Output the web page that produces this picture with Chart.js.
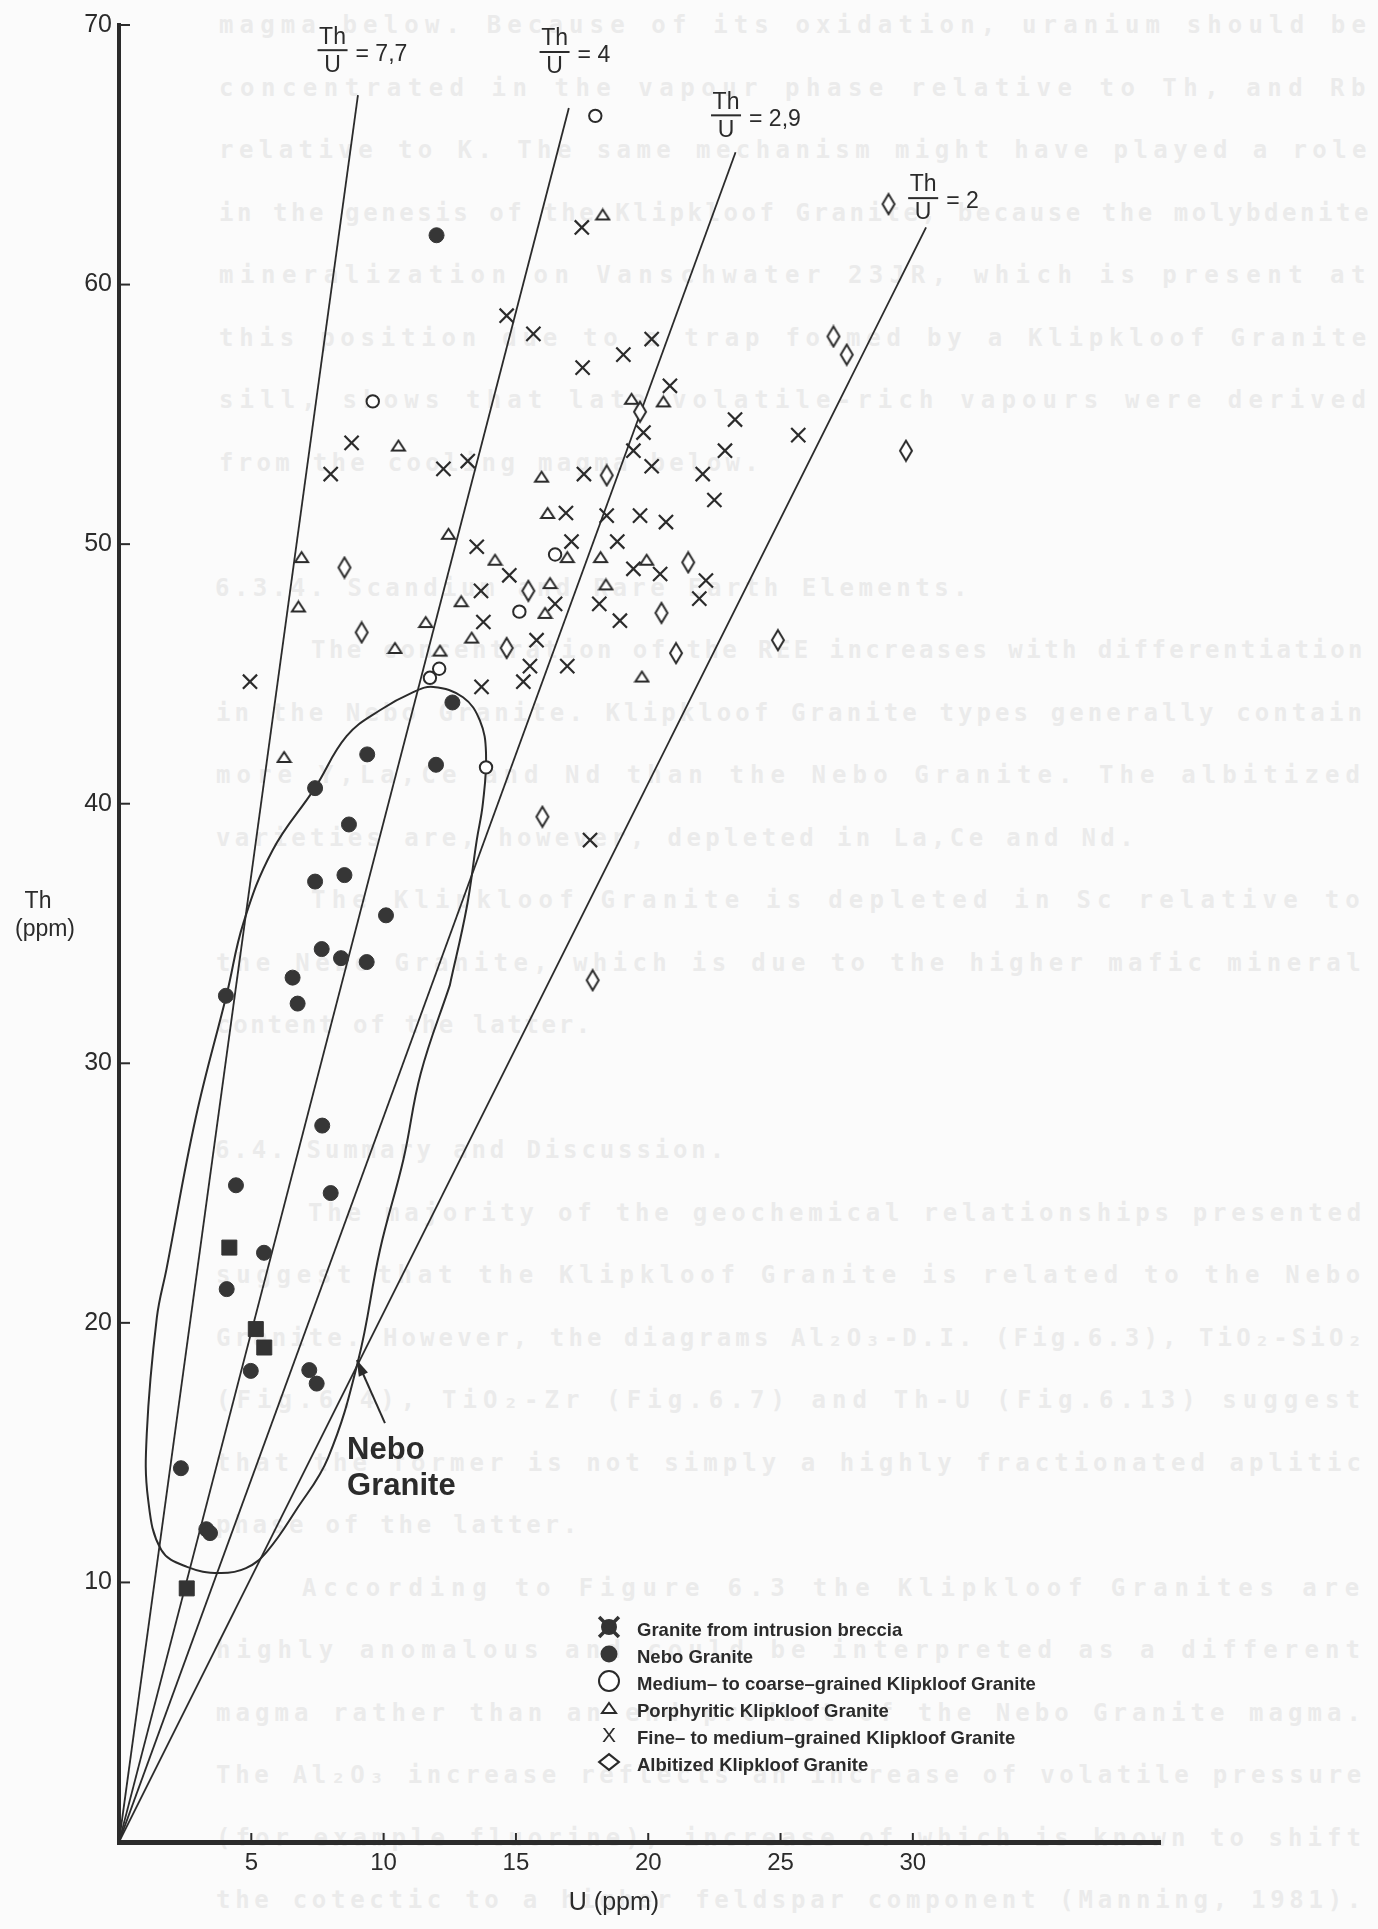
<!DOCTYPE html>
<html>
<head>
<meta charset="utf-8">
<script src="https://cdn.jsdelivr.net/npm/chart.js@4.4.1/dist/chart.umd.min.js"></script>
<style>
  html, body { margin: 0; padding: 0; background: #fbfbfb; }
  #page { position: relative; width: 1378px; height: 1929px; overflow: hidden; }
  #ghost { position: absolute; left: 0; top: 0; width: 1378px; height: 1929px; }
  #ghost div { position: absolute; white-space: pre; font: bold 24px "DejaVu Sans Mono", monospace; color: #ebebeb; line-height: 24px; }
  #chart { position: absolute; left: 0; top: 0; }
</style>
</head>
<body>
<div id="page">
  <div id="ghost"></div>
  <canvas id="chart" width="1378" height="1929"></canvas>
</div>
<script>
// --- values: U (ppm) and Th (ppm) ---
const brecciaU = [4.17, 5.17, 5.49, 2.56];
const brecciaTh = [22.9, 19.76, 19.05, 9.77];

const neboU = [12.0, 12.6, 9.38, 11.98, 7.41, 8.69, 7.41, 8.52, 10.09, 7.66, 8.39, 9.36, 6.56,
  4.04, 6.75, 7.68, 4.42, 8.0, 5.48, 4.07, 4.98, 7.19, 7.47, 2.34, 3.3, 3.44];
const neboTh = [61.9, 43.9, 41.9, 41.5, 40.6, 39.2, 37.0, 37.25, 35.7, 34.4, 34.05, 33.9, 33.3,
  32.6, 32.3, 27.6, 25.3, 25.0, 22.7, 21.3, 18.15, 18.18, 17.66, 14.4, 12.05, 11.9];

const coarseU = [18.0, 9.59, 16.48, 15.13, 12.1, 11.75, 13.87];
const coarseTh = [66.5, 55.5, 49.6, 47.4, 45.2, 44.85, 41.4];

const porphU = [18.28, 10.56, 19.37, 20.57, 12.45, 14.21, 6.9, 6.78, 12.93, 11.59, 10.43, 12.13,
  13.33, 6.24, 15.97, 16.2, 16.94, 18.2, 19.94, 16.29, 18.4, 16.1, 19.76];
const porphTh = [62.7, 53.8, 55.6, 55.5, 50.4, 49.4, 49.5, 47.6, 47.8, 47.0, 46.0, 45.9,
  46.4, 41.8, 52.6, 51.2, 49.5, 49.5, 49.4, 48.5, 48.45, 47.35, 44.9];

const fineU = [14.65, 8.79, 17.49, 15.66, 20.13, 19.06, 17.52, 20.82, 19.82, 23.28, 25.67, 22.9,
  19.44, 8.0, 12.26, 13.18, 13.52, 14.75, 13.68, 13.77, 4.95, 13.7, 15.28, 15.53, 17.57, 20.13,
  22.06, 22.5, 16.89, 18.43, 19.69, 20.67, 17.1, 18.83, 19.44, 20.45, 22.18, 21.93, 18.15, 16.48,
  18.93, 15.78, 16.94, 17.8];
const fineTh = [58.8, 53.9, 62.2, 58.1, 57.9, 57.3, 56.8, 56.1, 54.3, 54.8, 54.2, 53.6,
  53.6, 52.7, 52.9, 53.2, 49.9, 48.8, 48.2, 47.0, 44.7, 44.5, 44.7, 45.3, 52.7, 53.0,
  52.7, 51.7, 51.2, 51.1, 51.1, 50.85, 50.1, 50.1, 49.05, 48.85, 48.6, 47.9, 47.7, 47.7,
  47.05, 46.3, 45.3, 38.6];

const albitU = [29.08, 27.0, 27.5, 19.69, 29.74, 8.52, 9.17, 14.65, 18.43, 21.51, 15.47, 20.5,
  21.05, 24.9, 16.0, 17.9];
const albitTh = [63.1, 58.0, 57.3, 55.1, 53.6, 49.1, 46.6, 46.0, 52.65, 49.3, 48.2, 47.35,
  45.8, 46.3, 39.5, 33.2];

// Th/U reference lines from the origin, ends as drawn
const ratioText = ['7,7', '4', '2,9', '2'];
const ratioEndU = [9.03, 17.0, 23.3, 30.5];
const ratioEndTh = [67.3, 66.8, 65.1, 62.2];

// Nebo Granite field outline (closed)
const envU = [12.5, 11.4, 10.75, 9.86, 9.05, 7.9, 6.7, 5.6, 4.8, 3.8, 2.57, 1.6, 1.1, 1.05, 1.43,
  1.8, 2.9, 4.08, 4.7, 5.8, 7.4, 8.6, 9.86, 11.12, 11.88, 13.0, 13.64, 13.87, 13.75, 13.52, 13.14, 12.5];
const envTh = [33.0, 29.6, 26.3, 22.8, 18.6, 14.8, 12.8, 11.2, 10.55, 10.36, 10.6, 11.25, 13.2, 15.75, 20.2,
  22.1, 27.9, 32.7, 35.4, 38.2, 40.6, 42.6, 43.6, 44.3, 44.5, 44.1, 43.2, 41.95, 40.0, 38.6, 36.0, 33.0];

const xTicks = [5, 10, 15, 20, 25, 30];
const yTicks = [10, 20, 30, 40, 50, 60, 70];

const legendText = [
  'Granite from intrusion breccia',
  'Nebo Granite',
  'Medium\u2013 to coarse\u2013grained Klipkloof Granite',
  'Porphyritic Klipkloof Granite',
  'Fine\u2013 to medium\u2013grained Klipkloof Granite',
  'Albitized Klipkloof Granite'
];

// placement of annotations (in data units)
const ratioLabelAt = [[8.07, 69.03], [16.46, 68.96], [22.94, 66.52], [30.39, 63.33]];
const neboArrow = { from: [10.05, 16.14], to: [8.99, 18.57], text: [8.62, 15.1] };

// the bleed-through text of the facing page
const ghostLines = [
  [0, 219, 1372, 'magma below. Because of its oxidation, uranium should be'],
  [1, 219, 1372, 'concentrated in the vapour phase relative to Th, and Rb'],
  [2, 219, 1372, 'relative to K. The same mechanism might have played a role'],
  [3, 219, 1372, 'in the genesis of the Klipkloof Granite, because the molybdenite'],
  [4, 219, 1372, 'mineralization on Vanschwater 23JR, which is present at'],
  [5, 219, 1372, 'this position due to a trap formed by a Klipkloof Granite'],
  [6, 219, 1372, 'sill, shows that late volatile-rich vapours were derived'],
  [7, 219, 763, 'from the cooling magma below.'],
  [9, 215, 972, '6.3.4. Scandium and Rare Earth Elements.'],
  [10, 311, 1366, 'The concentration of the REE increases with differentiation'],
  [11, 216, 1366, 'in the Nebo Granite. Klipkloof Granite types generally contain'],
  [12, 216, 1366, 'more Y,La,Ce and Nd than the Nebo Granite. The albitized'],
  [13, 216, 1138, 'varieties are, however, depleted in La,Ce and Nd.'],
  [14, 311, 1366, 'The Klipkloof Granite is depleted in Sc relative to'],
  [15, 216, 1366, 'the Nebo Granite, which is due to the higher mafic mineral'],
  [16, 216, 593, 'content of the latter.'],
  [18, 215, 728, '6.4. Summary and Discussion.'],
  [19, 308, 1366, 'The majority of the geochemical relationships presented'],
  [20, 216, 1366, 'suggest that the Klipkloof Granite is related to the Nebo'],
  [21, 216, 1366, 'Granite. However, the diagrams Al\u2082O\u2083-D.I. (Fig.6.3), TiO\u2082-SiO\u2082'],
  [22, 216, 1366, '(Fig.6.4), TiO\u2082-Zr (Fig.6.7) and Th-U (Fig.6.13) suggest'],
  [23, 216, 1366, 'that the former is not simply a highly fractionated aplitic'],
  [24, 216, 581, 'phase of the latter.'],
  [25, 302, 1366, 'According to Figure 6.3 the Klipkloof Granites are'],
  [26, 216, 1366, 'highly anomalous and could be interpreted as a different'],
  [27, 216, 1366, 'magma rather than an end-product of the Nebo Granite magma.'],
  [28, 216, 1366, 'The Al\u2082O\u2083 increase reflects an increase of volatile pressure'],
  [29, 216, 1366, '(for example fluorine), increase of which is known to shift'],
  [30, 216, 1366, 'the cotectic to a higher feldspar component (Manning, 1981).']
];

const INK = '#2b2b2b';

// faint text behind the chart
const ghost = document.getElementById('ghost');
const meas = document.createElement('canvas').getContext('2d');
meas.font = 'bold 24px "DejaVu Sans Mono"';
ghostLines.forEach(([row, x0, x1, txt]) => {
  const d = document.createElement('div');
  d.textContent = txt;
  const n = [...txt].length;
  const w = meas.measureText(txt).width;
  d.style.left = x0 + 'px';
  d.style.top = (25 + 62.5 * row - 12) + 'px';
  d.style.letterSpacing = ((x1 - x0 - w) / n) + 'px';
  ghost.appendChild(d);
});

function pts(us, ths) { return us.map((u, i) => ({ x: u, y: ths[i] })); }

function diamond(w, h, lw) {
  const c = document.createElement('canvas');
  c.width = w; c.height = h;
  const g = c.getContext('2d');
  g.lineWidth = lw; g.strokeStyle = INK; g.fillStyle = '#fff';
  g.beginPath();
  g.moveTo(w / 2, lw); g.lineTo(w - lw, h / 2); g.lineTo(w / 2, h - lw); g.lineTo(lw, h / 2);
  g.closePath(); g.fill(); g.stroke();
  return c;
}
function triangle(w, h, lw) {
  const c = document.createElement('canvas');
  c.width = w; c.height = h;
  const g = c.getContext('2d');
  g.lineWidth = lw; g.strokeStyle = INK; g.fillStyle = '#fff'; g.lineJoin = 'miter';
  g.beginPath();
  g.moveTo(w / 2, lw); g.lineTo(w - lw, h - lw); g.lineTo(lw, h - lw);
  g.closePath(); g.fill(); g.stroke();
  return c;
}
const diamondImg = diamond(16, 24, 2);
const triImg = triangle(17, 14, 2);
const legendDiamond = diamond(24, 20, 2.2);
const legendTri = triangle(18, 14, 2);

const pointSets = [
  { label: legendText[0], data: pts(brecciaU, brecciaTh), pointStyle: 'rect', pointRadius: 10.6,
    backgroundColor: '#333', borderColor: '#333', borderWidth: 1 },
  { label: legendText[1], data: pts(neboU, neboTh), pointStyle: 'circle', pointRadius: 7.5,
    backgroundColor: '#363636', borderColor: '#363636', borderWidth: 1 },
  { label: legendText[2], data: pts(coarseU, coarseTh), pointStyle: 'circle', pointRadius: 6.2,
    backgroundColor: '#fff', borderColor: INK, borderWidth: 2 },
  { label: legendText[3], data: pts(porphU, porphTh), pointStyle: triImg, pointRadius: 8,
    backgroundColor: '#fff', borderColor: INK, borderWidth: 2 },
  { label: legendText[4], data: pts(fineU, fineTh), pointStyle: 'crossRot', pointRadius: 10,
    backgroundColor: INK, borderColor: INK, borderWidth: 2.2 },
  { label: legendText[5], data: pts(albitU, albitTh), pointStyle: diamondImg, pointRadius: 10,
    backgroundColor: '#fff', borderColor: INK, borderWidth: 2 }
].map(d => Object.assign(d, { showLine: false, order: 1, pointHoverRadius: d.pointRadius }));

const lineSets = ratioText.map((t, i) => ({
  label: 'Th/U = ' + t,
  data: [{ x: 0, y: 0 }, { x: ratioEndU[i], y: ratioEndTh[i] }],
  showLine: true, borderColor: INK, borderWidth: 1.8, pointRadius: 0, order: 2
}));
lineSets.push({
  label: 'Nebo Granite field',
  data: pts(envU, envTh),
  showLine: true, borderColor: INK, borderWidth: 2, pointRadius: 0, tension: 0.4, order: 2
});

const figure = {
  id: 'figure',
  afterDatasetsDraw(chart) {
    const { ctx, scales: { x, y }, chartArea: a } = chart;
    ctx.save();
    ctx.strokeStyle = INK; ctx.fillStyle = INK; ctx.lineWidth = 2;
    // inward tick marks
    yTicks.forEach(v => {
      const py = y.getPixelForValue(v);
      ctx.beginPath(); ctx.moveTo(a.left, py); ctx.lineTo(a.left + 11, py); ctx.stroke();
    });
    xTicks.forEach(v => {
      const px = x.getPixelForValue(v);
      ctx.beginPath(); ctx.moveTo(px, a.bottom); ctx.lineTo(px, a.bottom - 9); ctx.stroke();
    });
    // Th/U labels
    ratioLabelAt.forEach(([u, th], i) => {
      const bx = x.getPixelForValue(u), by = y.getPixelForValue(th);
      ctx.font = '23px "Liberation Sans"';
      ctx.textAlign = 'center'; ctx.textBaseline = 'middle';
      ctx.fillText('Th', bx, by - 13);
      ctx.fillText('U', bx, by + 15);
      ctx.fillRect(bx - 15, by - 1, 30, 2);
      ctx.textAlign = 'left';
      ctx.fillText('= ' + ratioText[i], bx + 23, by + 4);
    });
    // Nebo Granite label with arrow
    const fx = x.getPixelForValue(neboArrow.from[0]), fy = y.getPixelForValue(neboArrow.from[1]);
    const tx = x.getPixelForValue(neboArrow.to[0]), ty = y.getPixelForValue(neboArrow.to[1]);
    const ang = Math.atan2(ty - fy, tx - fx);
    ctx.beginPath(); ctx.moveTo(fx, fy); ctx.lineTo(tx, ty); ctx.stroke();
    ctx.beginPath();
    ctx.moveTo(tx, ty);
    ctx.lineTo(tx - 16 * Math.cos(ang) + 5 * Math.sin(ang), ty - 16 * Math.sin(ang) - 5 * Math.cos(ang));
    ctx.lineTo(tx - 16 * Math.cos(ang) - 5 * Math.sin(ang), ty - 16 * Math.sin(ang) + 5 * Math.cos(ang));
    ctx.closePath(); ctx.fill();
    const lx = x.getPixelForValue(neboArrow.text[0]), ly = y.getPixelForValue(neboArrow.text[1]);
    ctx.font = 'bold 31px "Liberation Sans"';
    ctx.textAlign = 'left'; ctx.textBaseline = 'middle';
    ctx.fillText('Nebo', lx, ly);
    ctx.fillText('Granite', lx, ly + 36);
    ctx.restore();
  },
  afterDraw(chart) {
    const ctx = chart.ctx;
    const draw = Chart.helpers.drawPoint;
    ctx.save();
    ctx.fillStyle = INK; ctx.strokeStyle = INK;
    // axis titles
    ctx.font = '23px "Liberation Sans"';
    ctx.textAlign = 'center'; ctx.textBaseline = 'middle';
    ctx.fillText('Th', 38, 902);
    ctx.fillText('(ppm)', 45, 930);
    ctx.font = '25px "Liberation Sans"';
    ctx.fillText('U (ppm)', 614, 1903);
    // legend
    const sx = 609, tx = 637;
    legendText.forEach((t, i) => {
      const ty = 1631 + 27 * i, sy = ty - 4;
      ctx.fillStyle = INK; ctx.strokeStyle = INK; ctx.lineWidth = 2;
      if (i === 0) {
        ctx.fillStyle = '#333';
        draw(ctx, { pointStyle: 'circle', radius: 8, borderWidth: 0 }, sx, sy);
        ctx.lineWidth = 3.5; ctx.strokeStyle = '#333';
        draw(ctx, { pointStyle: 'crossRot', radius: 14, borderWidth: 3.5 }, sx, sy);
      } else if (i === 1) {
        ctx.fillStyle = '#363636';
        draw(ctx, { pointStyle: 'circle', radius: 8.5, borderWidth: 0 }, sx, sy);
      } else if (i === 2) {
        ctx.fillStyle = '#fff';
        draw(ctx, { pointStyle: 'circle', radius: 10, borderWidth: 2 }, sx, sy);
      } else if (i === 3) {
        draw(ctx, { pointStyle: legendTri, radius: 9 }, sx, sy);
      } else if (i === 4) {
        ctx.font = '21px "Liberation Sans"';
        ctx.textAlign = 'center'; ctx.textBaseline = 'middle';
        ctx.fillText('X', sx, sy + 1);
      } else {
        draw(ctx, { pointStyle: legendDiamond, radius: 10 }, sx, sy);
      }
      ctx.fillStyle = INK;
      ctx.font = 'bold 18.5px "Liberation Sans"';
      ctx.textAlign = 'left'; ctx.textBaseline = 'middle';
      ctx.fillText(t, tx, ty);
    });
    ctx.restore();
  }
};

new Chart(document.getElementById('chart'), {
  type: 'scatter',
  data: { datasets: pointSets.concat(lineSets) },
  options: {
    responsive: false,
    animation: false,
    devicePixelRatio: 1,
    layout: { padding: { left: 0, top: 25, right: 1378 - 1160, bottom: 0 } },
    plugins: { legend: { display: false }, tooltip: { enabled: false } },
    scales: {
      x: {
        type: 'linear', min: 0, max: 39.34,
        afterBuildTicks: s => { s.ticks = xTicks.map(v => ({ value: v })); },
        afterFit: s => { s.height = 87; },
        grid: { display: false, drawTicks: false },
        border: { display: true, width: 5, color: INK },
        ticks: { color: INK, padding: 7, font: { family: 'Liberation Sans', size: 24 } }
      },
      y: {
        type: 'linear', min: 0, max: 70,
        afterBuildTicks: s => { s.ticks = yTicks.map(v => ({ value: v })); },
        afterFit: s => { s.width = 119; },
        grid: { display: false, drawTicks: false },
        border: { display: true, width: 4, color: INK },
        ticks: { color: INK, padding: 7, font: { family: 'Liberation Sans', size: 25 } }
      }
    }
  },
  plugins: [figure]
});
</script>
</body>
</html>
